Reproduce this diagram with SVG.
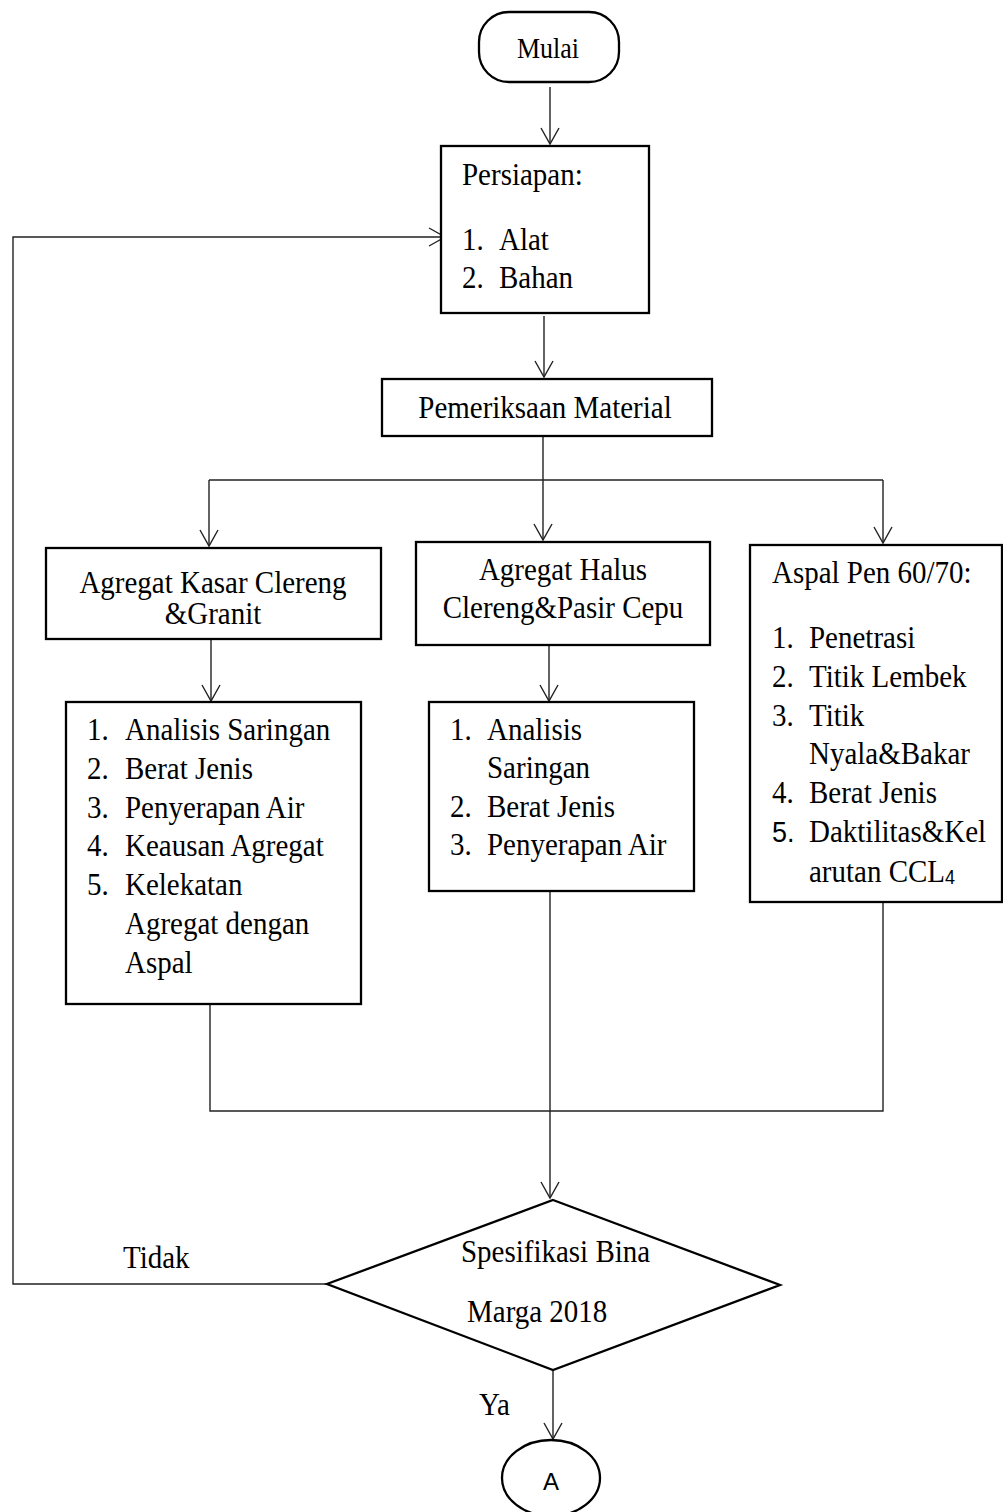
<svg xmlns="http://www.w3.org/2000/svg" width="1003" height="1512" viewBox="0 0 1003 1512">
<style>
  .shape { fill: #fff; stroke: #000; stroke-width: 2.3; }
  .conn { fill: none; stroke: #222; stroke-width: 1.4; }
  text { font-family: "Liberation Serif", "Times New Roman", serif; font-size: 29px; fill: #000; }
  .c { text-anchor: middle; }
  .sans { font-family: "Liberation Sans", Arial, sans-serif; }
</style>
<defs>
  <marker id="arr" markerUnits="userSpaceOnUse" viewBox="-20 -12 24 24" markerWidth="24" markerHeight="24" refX="0" refY="0" orient="auto" overflow="visible">
    <path d="M -16 -9 L 0 0 L -16 9" fill="none" stroke="#222" stroke-width="1.4"/>
  </marker>
</defs>
<rect width="1003" height="1512" fill="#fff"/>

<g id="connectors">
  <path class="conn" d="M550 87 V144" marker-end="url(#arr)"/>
  <path class="conn" d="M544 316 V377" marker-end="url(#arr)"/>
  <path class="conn" d="M543 436 V540" marker-end="url(#arr)"/>
  <path class="conn" d="M209 480 H883"/>
  <path class="conn" d="M209 480 V546" marker-end="url(#arr)"/>
  <path class="conn" d="M883 480 V543" marker-end="url(#arr)"/>
  <path class="conn" d="M211 639 V701" marker-end="url(#arr)"/>
  <path class="conn" d="M549 645 V701" marker-end="url(#arr)"/>
  <path class="conn" d="M210 1004 V1111 H883 V902"/>
  <path class="conn" d="M550 891 V1198" marker-end="url(#arr)"/>
  <path class="conn" d="M553 1370 V1439" marker-end="url(#arr)"/>
  <path class="conn" d="M327 1284 H13 V237 H445" marker-end="url(#arr)"/>
</g>

<g id="mulai">
  <rect class="shape" x="479" y="12" width="140" height="70" rx="30" ry="30"/>
  <text class="c" style="font-size:26px" transform="matrix(1 0 0 1.12 548 58)">Mulai</text>
</g>

<g id="persiapan">
  <rect class="shape" x="441" y="146" width="208" height="167"/>
  <text transform="matrix(1 0 0 1.12 462 185)">Persiapan:</text>
  <text transform="matrix(1 0 0 1.12 462 250)">1.</text>
  <text transform="matrix(1 0 0 1.12 499 250)">Alat</text>
  <text transform="matrix(1 0 0 1.12 462 288)">2.</text>
  <text transform="matrix(1 0 0 1.12 499 288)">Bahan</text>
</g>

<g id="pemeriksaan">
  <rect class="shape" x="382" y="379" width="330" height="57"/>
  <text class="c" transform="matrix(1 0 0 1.12 545 418)">Pemeriksaan Material</text>
</g>

<g id="agregat-kasar">
  <rect class="shape" x="46" y="548" width="335" height="91"/>
  <text class="c" transform="matrix(1 0 0 1.12 213 593)">Agregat Kasar Clereng</text>
  <text class="c" transform="matrix(1 0 0 1.12 213 624)">&amp;Granit</text>
</g>

<g id="agregat-halus">
  <rect class="shape" x="416" y="542" width="294" height="103"/>
  <text class="c" transform="matrix(1 0 0 1.12 563 580)">Agregat Halus</text>
  <text class="c" transform="matrix(1 0 0 1.12 563 618)">Clereng&amp;Pasir Cepu</text>
</g>

<g id="aspal">
  <rect class="shape" x="750" y="545" width="252" height="357"/>
  <text transform="matrix(1 0 0 1.12 772 583)">Aspal Pen 60/70:</text>
  <text transform="matrix(1 0 0 1.12 772 648)">1.</text>
  <text transform="matrix(1 0 0 1.12 809 648)">Penetrasi</text>
  <text transform="matrix(1 0 0 1.12 772 687)">2.</text>
  <text transform="matrix(1 0 0 1.12 809 687)">Titik Lembek</text>
  <text transform="matrix(1 0 0 1.12 772 726)">3.</text>
  <text transform="matrix(1 0 0 1.12 809 726)">Titik</text>
  <text transform="matrix(1 0 0 1.12 809 764)">Nyala&amp;Bakar</text>
  <text transform="matrix(1 0 0 1.12 772 803)">4.</text>
  <text transform="matrix(1 0 0 1.12 809 803)">Berat Jenis</text>
  <text class="sans" style="font-size:27px" transform="matrix(1 0 0 1.12 772 842)">5.</text>
  <text transform="matrix(1 0 0 1.12 809 842)">Daktilitas&amp;Kel</text>
  <text transform="matrix(1 0 0 1.12 809 882)">arutan CCL<tspan class="sans" style="font-size:18px" dy="2">4</tspan></text>
</g>

<g id="uji-kasar">
  <rect class="shape" x="66" y="702" width="295" height="302"/>
  <text transform="matrix(1 0 0 1.12 87 740)">1.</text>
  <text transform="matrix(1 0 0 1.12 125 740)">Analisis Saringan</text>
  <text transform="matrix(1 0 0 1.12 87 779)">2.</text>
  <text transform="matrix(1 0 0 1.12 125 779)">Berat Jenis</text>
  <text transform="matrix(1 0 0 1.12 87 818)">3.</text>
  <text transform="matrix(1 0 0 1.12 125 818)">Penyerapan Air</text>
  <text transform="matrix(1 0 0 1.12 87 856)">4.</text>
  <text transform="matrix(1 0 0 1.12 125 856)">Keausan Agregat</text>
  <text transform="matrix(1 0 0 1.12 87 895)">5.</text>
  <text transform="matrix(1 0 0 1.12 125 895)">Kelekatan</text>
  <text transform="matrix(1 0 0 1.12 125 934)">Agregat dengan</text>
  <text transform="matrix(1 0 0 1.12 125 973)">Aspal</text>
</g>

<g id="uji-halus">
  <rect class="shape" x="429" y="702" width="265" height="189"/>
  <text transform="matrix(1 0 0 1.12 450 740)">1.</text>
  <text transform="matrix(1 0 0 1.12 487 740)">Analisis</text>
  <text transform="matrix(1 0 0 1.12 487 778)">Saringan</text>
  <text transform="matrix(1 0 0 1.12 450 817)">2.</text>
  <text transform="matrix(1 0 0 1.12 487 817)">Berat Jenis</text>
  <text transform="matrix(1 0 0 1.12 450 855)">3.</text>
  <text transform="matrix(1 0 0 1.12 487 855)">Penyerapan Air</text>
</g>

<g id="spesifikasi">
  <polygon class="shape" points="553,1200 780,1285 553,1370 327,1284"/>
  <text transform="matrix(1 0 0 1.12 461 1262)">Spesifikasi Bina</text>
  <text transform="matrix(1 0 0 1.12 467 1322)">Marga 2018</text>
</g>

<g id="label-tidak">
  <text transform="matrix(1 0 0 1.12 123 1268)">Tidak</text>
</g>
<g id="label-ya">
  <text transform="matrix(1 0 0 1.12 479 1415)">Ya</text>
</g>

<g id="konektor-a">
  <ellipse class="shape" cx="551" cy="1478" rx="49" ry="38"/>
  <text class="c sans" style="font-size:24px" x="551" y="1490">A</text>
</g>
</svg>
